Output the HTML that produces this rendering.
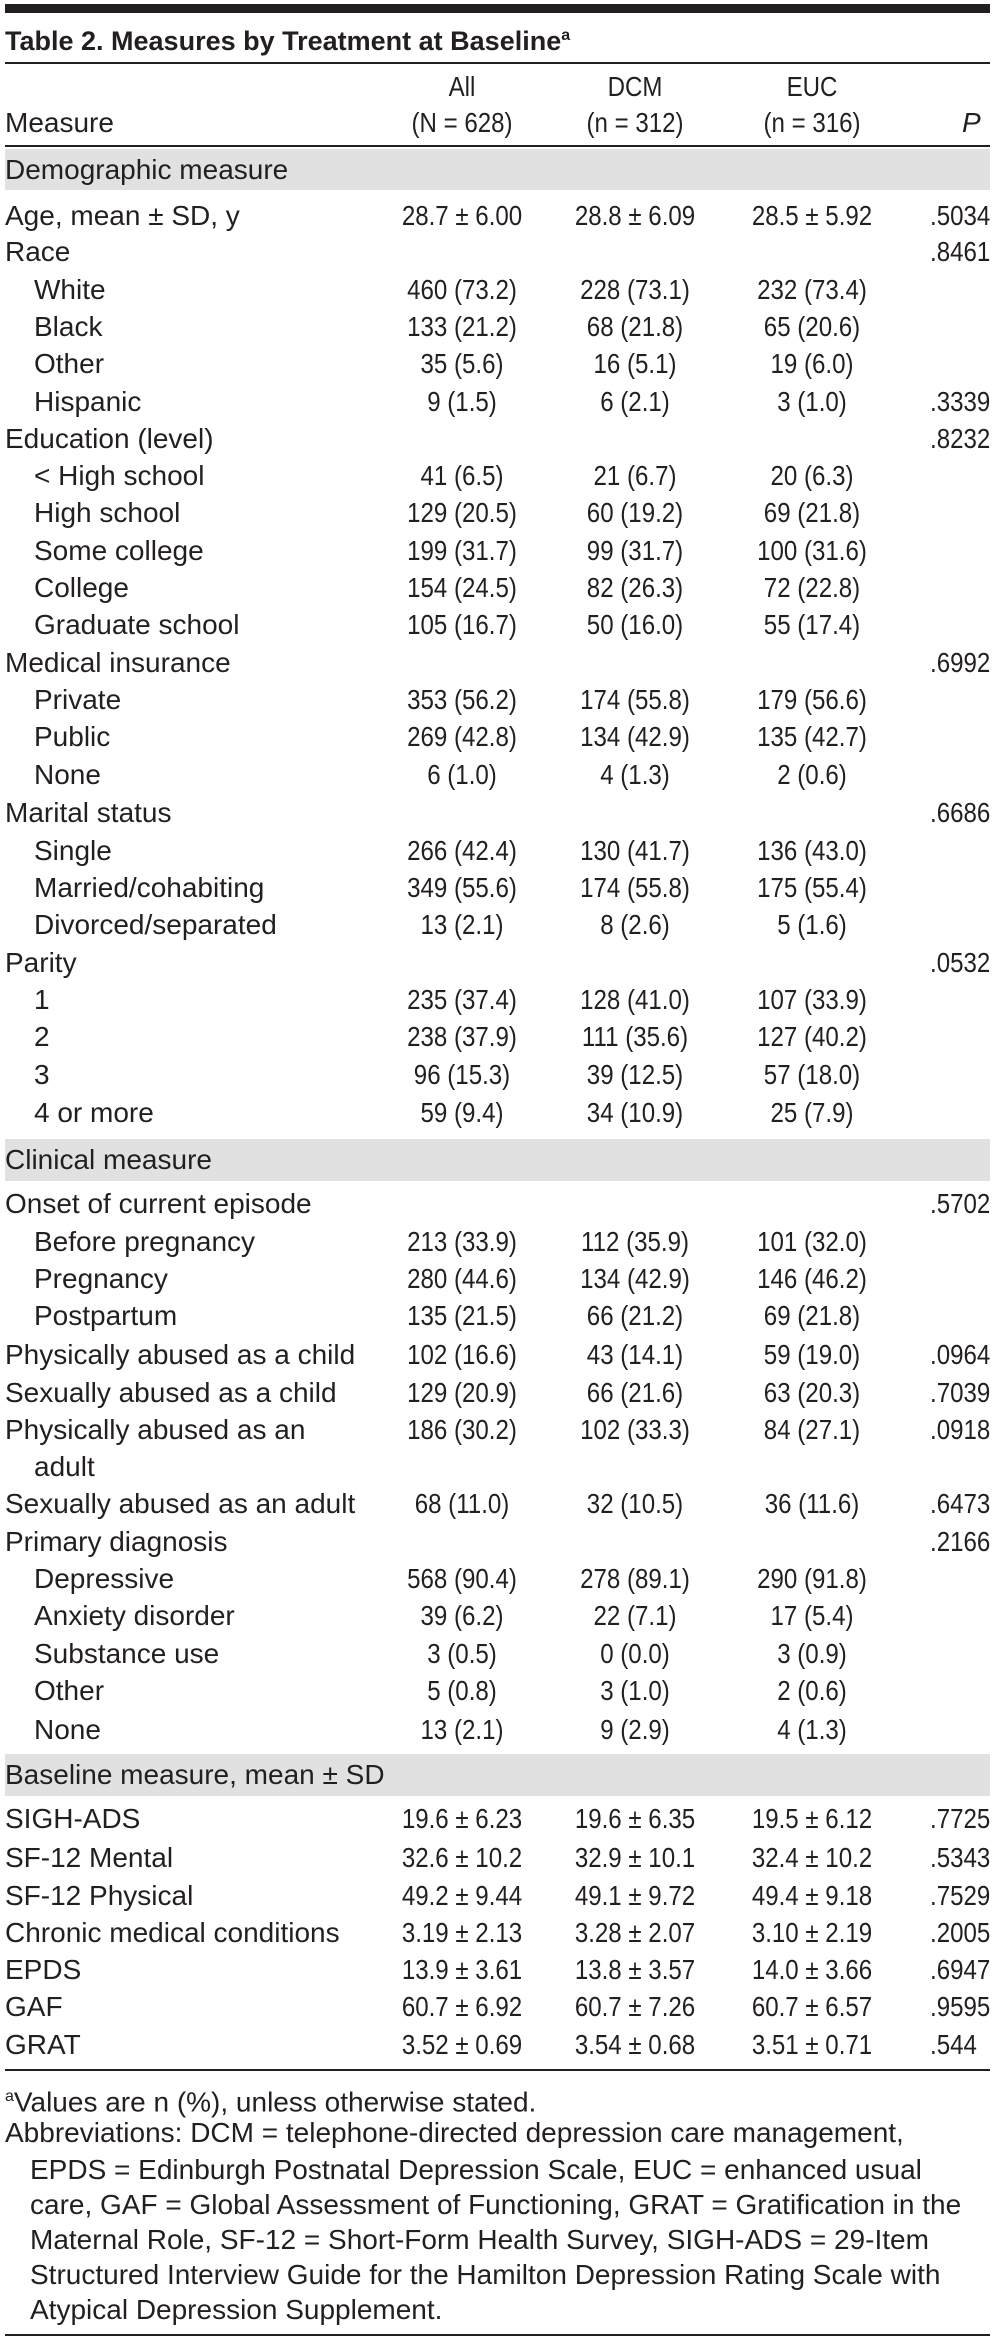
<!DOCTYPE html>
<html><head><meta charset="utf-8">
<style>
html,body{margin:0;padding:0;background:#fff;}
body{width:994px;height:2342px;position:relative;overflow:hidden;font-family:"Liberation Sans",sans-serif;color:#231f20;font-size:28px;}
.a{position:absolute;white-space:nowrap;line-height:30px;height:30px;}
.r{position:absolute;left:5px;width:985px;background:#231f20;}
.band{position:absolute;left:5px;width:985px;background:#e1e1e1;}
.c{transform:translateX(-50%) scaleX(0.86);transform-origin:center;}
.n{transform:scaleX(0.86);transform-origin:left;}
</style></head>
<body>
<div class="r" style="top:4px;height:9px;"></div>
<div class="a" style="left:5px;top:20px;font-weight:bold;font-size:27px;height:32px;line-height:32px;">Table 2. Measures by Treatment at Baseline<sup style="font-size:16px;">a</sup></div>
<div class="r" style="top:62px;height:2px;"></div>
<div class="a c" style="left:462px;top:72px;">All</div>
<div class="a c" style="left:635px;top:72px;">DCM</div>
<div class="a c" style="left:812px;top:72px;">EUC</div>
<div class="a" style="left:5px;top:108px;">Measure</div>
<div class="a c" style="left:462px;top:108px;">(N = 628)</div>
<div class="a c" style="left:635px;top:108px;">(n = 312)</div>
<div class="a c" style="left:812px;top:108px;">(n = 316)</div>
<div class="a" style="left:962px;top:108px;font-style:italic;">P</div>
<div class="r" style="top:145px;height:2px;"></div>
<div id="body"></div>
<div class="r" style="top:2069px;height:2px;"></div>
<div class="a" style="left:5px;top:2082px;"><sup style="font-size:16px;">a</sup>Values are n (%), unless otherwise stated.</div>
<div class="a" style="left:5px;top:2118px;">Abbreviations: DCM = telephone-directed depression care management,</div>
<div class="a" style="left:30px;top:2155px;">EPDS = Edinburgh Postnatal Depression Scale, EUC = enhanced usual</div>
<div class="a" style="left:30px;top:2190px;">care, GAF = Global Assessment of Functioning, GRAT = Gratification in the</div>
<div class="a" style="left:30px;top:2225px;">Maternal Role, SF-12 = Short-Form Health Survey, SIGH-ADS = 29-Item</div>
<div class="a" style="left:30px;top:2260px;">Structured Interview Guide for the Hamilton Depression Rating Scale with</div>
<div class="a" style="left:30px;top:2295px;">Atypical Depression Supplement.</div>
<div class="r" style="top:2334px;height:2px;"></div>
<script>
const rows = [
['band',149,190,'Demographic measure'],
[145,0,'Age, mean ± SD, y','28.7 ± 6.00','28.8 ± 6.09','28.5 ± 5.92','.5034'],
[169,0,'Race','','','','.8461'],
[194,1,'White','460 (73.2)','228 (73.1)','232 (73.4)',''],
[219,1,'Black','133 (21.2)','68 (21.8)','65 (20.6)',''],
[244,1,'Other','35 (5.6)','16 (5.1)','19 (6.0)',''],
[269,1,'Hispanic','9 (1.5)','6 (2.1)','3 (1.0)','.3339'],
[294,0,'Education (level)','','','','.8232'],
[319,1,'< High school','41 (6.5)','21 (6.7)','20 (6.3)',''],
[344,1,'High school','129 (20.5)','60 (19.2)','69 (21.8)',''],
[369,1,'Some college','199 (31.7)','99 (31.7)','100 (31.6)',''],
[394,1,'College','154 (24.5)','82 (26.3)','72 (22.8)',''],
[419,1,'Graduate school','105 (16.7)','50 (16.0)','55 (17.4)',''],
[444,0,'Medical insurance','','','','.6992'],
[469,1,'Private','353 (56.2)','174 (55.8)','179 (56.6)',''],
[494,1,'Public','269 (42.8)','134 (42.9)','135 (42.7)',''],
[519,1,'None','6 (1.0)','4 (1.3)','2 (0.6)',''],
[545,0,'Marital status','','','','.6686'],
[570,1,'Single','266 (42.4)','130 (41.7)','136 (43.0)',''],
[595,1,'Married/cohabiting','349 (55.6)','174 (55.8)','175 (55.4)',''],
[620,1,'Divorced/separated','13 (2.1)','8 (2.6)','5 (1.6)',''],
[645,0,'Parity','','','','.0532'],
[670,1,'1','235 (37.4)','128 (41.0)','107 (33.9)',''],
[695,1,'2','238 (37.9)','111 (35.6)','127 (40.2)',''],
[720,1,'3','96 (15.3)','39 (12.5)','57 (18.0)',''],
[746,1,'4 or more','59 (9.4)','34 (10.9)','25 (7.9)',''],
['band',1139,1181,'Clinical measure'],
[807,0,'Onset of current episode','','','','.5702'],
[832,1,'Before pregnancy','213 (33.9)','112 (35.9)','101 (32.0)',''],
[857,1,'Pregnancy','280 (44.6)','134 (42.9)','146 (46.2)',''],
[882,1,'Postpartum','135 (21.5)','66 (21.2)','69 (21.8)',''],
[908,0,'Physically abused as a child','102 (16.6)','43 (14.1)','59 (19.0)','.0964'],
[933,0,'Sexually abused as a child','129 (20.9)','66 (21.6)','63 (20.3)','.7039'],
[958,0,'Physically abused as an','186 (30.2)','102 (33.3)','84 (27.1)','.0918'],
[983,1,'adult','','','',''],
[1008,0,'Sexually abused as an adult','68 (11.0)','32 (10.5)','36 (11.6)','.6473'],
[1033,0,'Primary diagnosis','','','','.2166'],
[1058,1,'Depressive','568 (90.4)','278 (89.1)','290 (91.8)',''],
[1083,1,'Anxiety disorder','39 (6.2)','22 (7.1)','17 (5.4)',''],
[1108,1,'Substance use','3 (0.5)','0 (0.0)','3 (0.9)',''],
[1133,1,'Other','5 (0.8)','3 (1.0)','2 (0.6)',''],
[1159,1,'None','13 (2.1)','9 (2.9)','4 (1.3)',''],
['band',1754,1796,'Baseline measure, mean ± SD'],
[1219,0,'SIGH-ADS','19.6 ± 6.23','19.6 ± 6.35','19.5 ± 6.12','.7725'],
[1245,0,'SF-12 Mental','32.6 ± 10.2','32.9 ± 10.1','32.4 ± 10.2','.5343'],
[1270,0,'SF-12 Physical','49.2 ± 9.44','49.1 ± 9.72','49.4 ± 9.18','.7529'],
[1295,0,'Chronic medical conditions','3.19 ± 2.13','3.28 ± 2.07','3.10 ± 2.19','.2005'],
[1320,0,'EPDS','13.9 ± 3.61','13.8 ± 3.57','14.0 ± 3.66','.6947'],
[1345,0,'GAF','60.7 ± 6.92','60.7 ± 7.26','60.7 ± 6.57','.9595'],
[1370,0,'GRAT','3.52 ± 0.69','3.54 ± 0.68','3.51 ± 0.71','.544']
];
const host = document.getElementById('body');
function mk(cls, style, text){
  const d=document.createElement('div');
  d.className=cls; d.setAttribute('style',style); d.textContent=text;
  host.appendChild(d); return d;
}
rows.forEach((r,i)=>{
  if(r[0]==='band'){
    const b=mk('band','top:'+r[1]+'px;height:'+(r[2]-r[1])+'px;','');
    
    
    const t=mk('a','left:5px;top:'+((r[1]+r[2])/2-15)+'px;',r[3]);
    
    
    return;
  }
  const top=(r[0]*1.4925-15).toFixed(1);
  const l=mk('a','left:'+(r[1]?34:5)+'px;top:'+top+'px;',r[2]);
  
  
  const cx=[462,635,812];
  for(let k=0;k<3;k++){
    if(!r[3+k]) continue;
    const v=mk('a c','left:'+cx[k]+'px;top:'+top+'px;',r[3+k]);
    
    
  }
  if(r[6]){
    const p=mk('a n','left:930px;top:'+top+'px;',r[6]);
    
    
  }
});
</script>
</body></html>
